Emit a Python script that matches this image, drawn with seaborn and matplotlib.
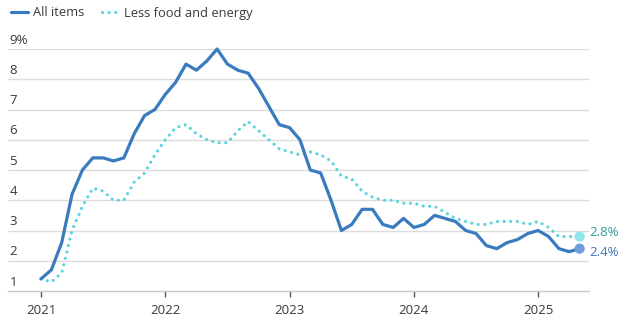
import numpy as np
import pandas as pd
import matplotlib
matplotlib.use("Agg")
import matplotlib.pyplot as plt
import seaborn as sns
from matplotlib.lines import Line2D

# Monthly year-over-year CPI change, Jan 2021 - May 2025
all_items = [1.4, 1.7, 2.6, 4.2, 5.0, 5.4, 5.4, 5.3, 5.4, 6.2, 6.8, 7.0,
             7.5, 7.9, 8.5, 8.3, 8.6, 9.0, 8.5, 8.3, 8.2, 7.7, 7.1, 6.5,
             6.4, 6.0, 5.0, 4.9, 4.0, 3.0, 3.2, 3.7, 3.7, 3.2, 3.1, 3.4,
             3.1, 3.2, 3.5, 3.4, 3.3, 3.0, 2.9, 2.5, 2.4, 2.6, 2.7, 2.9,
             3.0, 2.8, 2.4, 2.3, 2.4]
core = [1.4, 1.3, 1.6, 3.0, 3.8, 4.4, 4.3, 4.0, 4.0, 4.6, 4.9, 5.5,
        6.0, 6.4, 6.5, 6.2, 6.0, 5.9, 5.9, 6.3, 6.6, 6.3, 6.0, 5.7,
        5.6, 5.5, 5.6, 5.5, 5.3, 4.8, 4.7, 4.3, 4.1, 4.0, 4.0, 3.9,
        3.9, 3.8, 3.8, 3.6, 3.4, 3.3, 3.2, 3.2, 3.3, 3.3, 3.3, 3.2,
        3.3, 3.1, 2.8, 2.8, 2.8]
start_year = 2021
series_names = ["All items", "Less food and energy"]
y_ticks = [1, 2, 3, 4, 5, 6, 7, 8, 9]
x_ticks = [2021, 2022, 2023, 2024, 2025]
end_labels = ["2.4%", "2.8%"]

months = np.arange(len(all_items))
t = start_year + months / 12.0
df_all = pd.DataFrame({"t": t, "v": all_items})
df_core = pd.DataFrame({"t": t, "v": core})

BLUE = "#3a7bc0"
CYAN = "#5ad4de"
LBL_BLUE = "#3e78b6"
LBL_TEAL = "#2f9c98"
TXT = "#3a3a3a"

sns.set_theme(style="white")
plt.rcParams["font.family"] = ["Open Sans", "DejaVu Sans"]

W, H = 624, 329
fig = plt.figure(figsize=(W / 100, H / 100), dpi=100)
ax = fig.add_axes([8 / W, (H - 291) / H, (589 - 8) / W, (291 - 49) / H])

px_per_year = 124.3
x0 = start_year - 33 / px_per_year
x1 = start_year + (589 - 41) / px_per_year
ax.set_xlim(x0, x1)
ax.set_ylim(1, 9)

for v in y_ticks[1:]:
    ax.axhline(v, color="#dcdcdc", lw=1.0, zorder=0)

sns.lineplot(data=df_core, x="t", y="v", ax=ax, color=CYAN, lw=2.3,
             linestyle=(0, (0.01, 2.05)), dash_capstyle="round",
             clip_on=False, zorder=3)
sns.lineplot(data=df_all, x="t", y="v", ax=ax, color=BLUE, lw=2.3,
             clip_on=False, zorder=4, solid_capstyle="round",
             solid_joinstyle="round")

# end markers
ax.scatter([t[-1]], [core[-1]], s=55, color="#8fe6ee", zorder=5, clip_on=False,
           edgecolor="none")
ax.scatter([t[-1]], [all_items[-1]], s=55, color="#6f9fd6", zorder=5, clip_on=False,
           edgecolor="none")
ax.annotate(end_labels[1], (t[-1], core[-1]), xytext=(7, 3), textcoords="offset points",
            color=LBL_TEAL, fontsize=9.5, va="center", ha="left", annotation_clip=False)
ax.annotate(end_labels[0], (t[-1], all_items[-1]), xytext=(7, -3), textcoords="offset points",
            color=LBL_BLUE, fontsize=9.5, va="center", ha="left", annotation_clip=False)

# axes styling
for s in ["top", "right", "left"]:
    ax.spines[s].set_visible(False)
ax.spines["bottom"].set_color("#c8c8c8")
ax.spines["bottom"].set_linewidth(1.0)
ax.set_yticks([])
ax.set_xticks(x_ticks)
ax.set_xticklabels([str(x) for x in x_ticks], fontsize=9.5, color=TXT)
ax.tick_params(axis="x", length=4, width=1, color="#555555", pad=5.5, bottom=True)
ax.set_xlabel("")
ax.set_ylabel("")
if ax.get_legend():
    ax.get_legend().remove()

# y labels above gridlines
for v in y_ticks:
    lab = f"{v}%" if v == 9 else str(v)
    ax.text(x0 + 1.5 / px_per_year, v + 0.08, lab, fontsize=9.5,
            color=TXT, ha="left", va="bottom")

# legend
handles = [Line2D([0], [0], color=BLUE, lw=2.3),
           Line2D([0], [0], color=CYAN, lw=2.3, linestyle=(0, (0.01, 2.05)),
                  dash_capstyle="round")]
fig.legend(handles, series_names, loc="center left",
           bbox_to_anchor=(6 / W, (H - 13) / H), ncol=2, frameon=False,
           fontsize=9.3, handlelength=1.3, handletextpad=0.4, columnspacing=1.4,
           labelcolor=TXT, borderaxespad=0)

fig.savefig("out.png", dpi=100)
